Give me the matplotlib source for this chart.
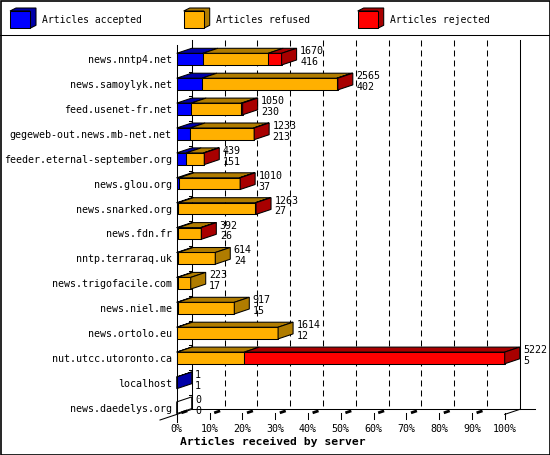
import matplotlib
matplotlib.use("Agg")
import matplotlib.pyplot as plt
from matplotlib.patches import Polygon, Rectangle
from matplotlib.lines import Line2D

servers = ["news.nntp4.net", "news.samoylyk.net", "feed.usenet-fr.net",
           "gegeweb-out.news.mb-net.net", "feeder.eternal-september.org",
           "news.glou.org", "news.snarked.org", "news.fdn.fr", "nntp.terraraq.uk",
           "news.trigofacile.com", "news.niel.me", "news.ortolo.eu",
           "nut.utcc.utoronto.ca", "localhost", "news.daedelys.org"]
totals = [1670, 2565, 1050, 1233, 439, 1010, 1263, 392, 614, 223, 917, 1614, 5222, 1, 0]
accepted = [416, 402, 230, 213, 151, 37, 27, 26, 24, 17, 15, 12, 5, 1, 0]
refused = [1040, 2148, 800, 1010, 276, 963, 1226, 358, 590, 206, 902, 1602, 1071, 0, 0]
rejected = [214, 15, 20, 10, 12, 10, 10, 8, 0, 0, 0, 0, 4146, 0, 0]
series_names = ["Articles accepted", "Articles refused", "Articles rejected"]
tick_labels = ["0%", "10%", "20%", "30%", "40%", "50%", "60%", "70%", "80%", "90%", "100%"]
xlabel = "Articles received by server"

front_colors = ["#0000FF", "#FFB000", "#FF0000"]
dark_colors = ["#0000A8", "#B07C00", "#A80000"]

W, H = 550, 455
plt.rcParams['lines.scale_dashes'] = False
FONT = "DejaVu Sans Mono"
fig = plt.figure(figsize=(W / 100, H / 100), dpi=100)
fig.patch.set_facecolor("white")

def fx(px):
    return px / W

def fy(py):
    return 1 - py / H

x0_px, x100_px = 176.7, 504.7
yc0_px, step_px = 59.15, 24.9
n = len(servers)
y_last_px = yc0_px + step_px * (n - 1)
ax = fig.add_axes([fx(x0_px), fy(y_last_px), (x100_px - x0_px) / W, (y_last_px - yc0_px) / H])
ax.set_xlim(0, 100)
ax.set_ylim(n - 1, 0)
ax.axis("off")

LW = 0.75
px_x = 100 / (x100_px - x0_px)   # data units per pixel (x)
px_y = 1 / step_px               # data units per pixel (y)
DX = 15 * px_x
DY = 5 * px_y
BH = 11.7 * px_y
top_front = -14.2 * px_y - 0.0   # front top of plotting wall (y=45px)
top_front = (45 - yc0_px) * px_y
floor_front = (414.4 - yc0_px) * px_y
floor_back = floor_front - DY
top_back = top_front - DY

# back wall
kw = dict(color="black", lw=LW, clip_on=False)
ax.add_line(Line2D([DX, DX], [top_back, floor_back], zorder=1, **kw))
ax.add_line(Line2D([100 + DX, 100 + DX], [top_back, floor_back], zorder=1, **kw))
ax.add_line(Line2D([DX, (535 - x0_px) * px_x], [floor_back, floor_back], zorder=1, **kw))
for i in range(1, 10):
    gx = i * 10 + DX
    ax.add_line(Line2D([gx, gx], [top_back, floor_back], color="black", lw=LW,
                       dashes=(4.3, 2.9), clip_on=False, zorder=1))
# back wall ticks between categories
for i in range(n - 1):
    yb = i + 0.5
    ax.add_line(Line2D([DX - 3 * px_x, DX], [yb, yb], zorder=1, **kw))
# floor edges
ax.add_line(Line2D([(160 - x0_px) * px_x, DX], [(420 - yc0_px) * px_y, floor_back], zorder=1, **kw))
ax.add_line(Line2D([100, 100 + DX], [floor_front, floor_back], zorder=1, **kw))
# front axis
ax.add_line(Line2D([0, 0], [top_front, floor_front + 8 * px_y], zorder=5, **kw))
for i in range(0, 11):
    tx = i * 10
    ax.add_line(Line2D([tx, tx], [floor_front - 1 * px_y, floor_front + 5 * px_y], zorder=5, **kw))
    if i < 10:
        ax.add_line(Line2D([tx + 0.4 * DX, tx + 0.62 * DX],
                           [floor_front - 0.4 * DY, floor_front - 0.62 * DY],
                           color="black", lw=2, clip_on=False, zorder=5))
    ax.text(tx, (431.7 - yc0_px) * px_y, tick_labels[i], ha="center", va="baseline",
            fontsize=7.2, family=FONT, clip_on=False)

ax.text((180 - x0_px) * px_x, (441.7 - yc0_px) * px_y, xlabel, ha="left", va="center",
        fontsize=8.2, family=FONT, fontweight="bold", clip_on=False)

vmax = max(totals)
for i in range(n):
    vals = [accepted[i], refused[i], rejected[i]]
    left = 0.0
    last = None
    ytop = i - BH / 2
    ybot = i + BH / 2
    for k, v in enumerate(vals):
        w = v / vmax * 100
        if v <= 0:
            continue
        ax.barh(i, w, left=left, height=BH, color=front_colors[k], edgecolor="black",
                linewidth=LW, zorder=4, clip_on=False)
        ax.add_patch(Polygon([(left, ytop), (left + w, ytop), (left + w + DX, ytop - DY),
                              (left + DX, ytop - DY)], closed=True, facecolor=dark_colors[k],
                             edgecolor="black", lw=LW, zorder=4, clip_on=False))
        left += w
        last = k
    side_color = dark_colors[last] if last is not None else "white"
    ax.add_patch(Polygon([(left, ytop), (left + DX, ytop - DY), (left + DX, ybot - DY),
                          (left, ybot)], closed=True, facecolor=side_color,
                         edgecolor="black", lw=LW, zorder=4, clip_on=False))
    tx = left + DX + 3.5 * px_x
    ax.text(tx, i - 0.195, str(totals[i]), ha="left", va="baseline", fontsize=7.2,
            family=FONT, clip_on=False, zorder=6)
    ax.text(tx, i + 0.235, str(accepted[i]), ha="left", va="baseline", fontsize=7.2,
            family=FONT, clip_on=False, zorder=6)
    ax.text((171.7 - x0_px) * px_x, i + 0.04, servers[i], ha="right", va="center",
            fontsize=7.2, family=FONT, clip_on=False)

# legend
leg_x = [10, 183.7, 357.7]
text_x = [42.3, 216.3, 390.3]
for k in range(3):
    x1, y1, x2, y2 = leg_x[k], 11, leg_x[k] + 20, 28.3
    d, e = 6, 3
    fig.patches.append(Polygon([(fx(x1), fy(y1)), (fx(x1 + d), fy(y1 - e)), (fx(x2 + d), fy(y1 - e)),
                                (fx(x2 + d), fy(y2 - e)), (fx(x2), fy(y2)), (fx(x2), fy(y1))],
                               closed=True, facecolor=dark_colors[k], edgecolor="black", lw=LW,
                               transform=fig.transFigure))
    fig.patches.append(Rectangle((fx(x1), fy(y2)), fx(x2 - x1), (y2 - y1) / H,
                                 facecolor=front_colors[k], edgecolor="black", lw=LW,
                                 transform=fig.transFigure))
    fig.text(fx(text_x[k]), fy(20.3), series_names[k], ha="left", va="center",
             fontsize=7, family=FONT)

fig.lines.append(Line2D([0, 1], [fy(35), fy(35)], color="black", lw=LW, transform=fig.transFigure))
fig.patches.append(Rectangle((0.5 / W, 0.5 / H), 1 - 1 / W, 1 - 1 / H, fill=False,
                             edgecolor="black", lw=1.2, transform=fig.transFigure))

fig.savefig("out.png", dpi=100)
